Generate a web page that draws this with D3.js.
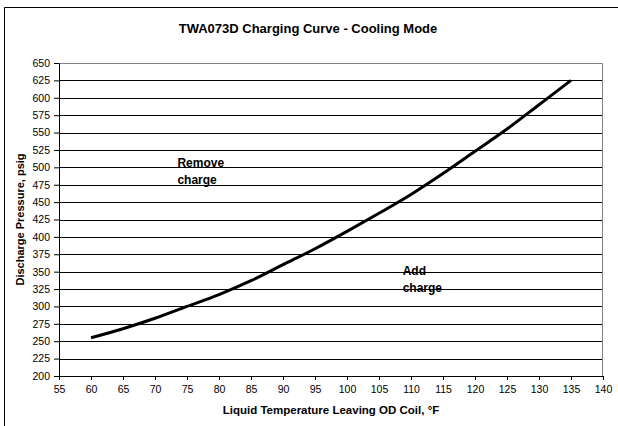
<!DOCTYPE html>
<html>
<head>
<meta charset="utf-8">
<script src="https://cdn.jsdelivr.net/npm/d3@7"></script>
<style>
  body { margin: 0; background: #fff; }
  svg { display: block; font-family: "Liberation Sans", Arial, sans-serif; }
</style>
</head>
<body>
<div id="chart"></div>
<script>
// Charging curve
const temps = [60, 65, 70, 75, 80, 85, 90, 95, 100, 105, 110, 115, 120, 125, 130, 135];
const pressures = [255, 268, 283, 300, 317, 337, 360, 383, 408, 434, 461, 491, 523, 555, 590, 625];
const xTicks = [55, 60, 65, 70, 75, 80, 85, 90, 95, 100, 105, 110, 115, 120, 125, 130, 135, 140];
const yTicks = [200, 225, 250, 275, 300, 325, 350, 375, 400, 425, 450, 475, 500, 525, 550, 575, 600, 625, 650];
const regionLabels = [
  {x: 73.5, y: 500, lines: ['Remove', 'charge']},
  {x: 108.7, y: 345, lines: ['Add', 'charge']}
];

const config = {
  width: 618, height: 426,
  margin: {top: 63, right: 15, bottom: 50, left: 59}
};

const width = config.width - config.margin.left - config.margin.right;
const height = config.height - config.margin.top - config.margin.bottom;

const svg = d3.select('#chart').append('svg')
    .attr('width', config.width)
    .attr('height', config.height);

// outer chart frame (left + top visible)
svg.append('path')
    .attr('d', `M4.5,${config.height} V7.5 H${config.width}`)
    .attr('fill', 'none')
    .attr('stroke', '#000')
    .attr('stroke-width', 1);

svg.append('text')
    .attr('x', 308)
    .attr('y', 33)
    .attr('text-anchor', 'middle')
    .style('font-size', '13px')
    .style('font-weight', 'bold')
    .text('TWA073D Charging Curve - Cooling Mode');

const g = svg.append('g')
    .attr('transform', `translate(${config.margin.left},${config.margin.top})`);

const xScale = d3.scaleLinear().domain([55, 140]).range([0, width]);
const yScale = d3.scaleLinear().domain([200, 650]).range([height, 0]);

// gridlines
g.append('g')
  .selectAll('line')
  .data(yTicks.filter(d => d > 200 && d < 650))
  .join('line')
    .attr('x1', 0)
    .attr('x2', width)
    .attr('y1', d => Math.round(yScale(d)) + 0.5)
    .attr('y2', d => Math.round(yScale(d)) + 0.5)
    .attr('stroke', '#000')
    .attr('stroke-width', 1);

// plot frame top/right in grey
g.append('path')
    .attr('d', `M0,0.5 H${width - 0.5} V${height}`)
    .attr('fill', 'none')
    .attr('stroke', '#808080');

const xAxis = d3.axisBottom(xScale).tickValues(xTicks).tickSize(4).tickSizeOuter(0).tickPadding(6);
const yAxis = d3.axisLeft(yScale).tickValues(yTicks).tickSize(5).tickSizeOuter(0).tickPadding(4);

const xg = g.append('g')
    .attr('transform', `translate(0,${height})`)
    .call(xAxis);
const yg = g.append('g').call(yAxis);

[xg, yg].forEach(ax => {
  ax.selectAll('text')
      .style('font-size', '10.5px')
      .style('font-family', '"Liberation Sans", Arial, sans-serif')
      .attr('fill', '#000');
  ax.selectAll('line, path').attr('stroke', '#000');
});

// curve
const line = d3.line()
    .x((d, i) => xScale(temps[i]))
    .y(d => yScale(d))
    .curve(d3.curveMonotoneX);

g.append('path')
    .datum(pressures)
    .attr('fill', 'none')
    .attr('stroke', '#000')
    .attr('stroke-width', 3)
    .attr('d', line);

// region labels
regionLabels.forEach(lab => {
  const t = g.append('text')
      .attr('x', xScale(lab.x))
      .attr('y', yScale(lab.y))
      .style('font-size', '12px')
      .style('font-weight', 'bold');
  lab.lines.forEach((s, i) => {
    t.append('tspan')
        .attr('x', xScale(lab.x))
        .attr('dy', i === 0 ? 0 : 17)
        .text(s);
  });
});

// axis titles
g.append('text')
    .attr('x', width / 2)
    .attr('y', height + 38)
    .attr('text-anchor', 'middle')
    .style('font-size', '11.5px')
    .style('font-weight', 'bold')
    .text('Liquid Temperature Leaving OD Coil, °F');

g.append('text')
    .attr('transform', `translate(-35,${height / 2}) rotate(-90)`)
    .attr('text-anchor', 'middle')
    .style('font-size', '11px')
    .style('font-weight', 'bold')
    .text('Discharge Pressure, psig');
</script>
</body>
</html>
